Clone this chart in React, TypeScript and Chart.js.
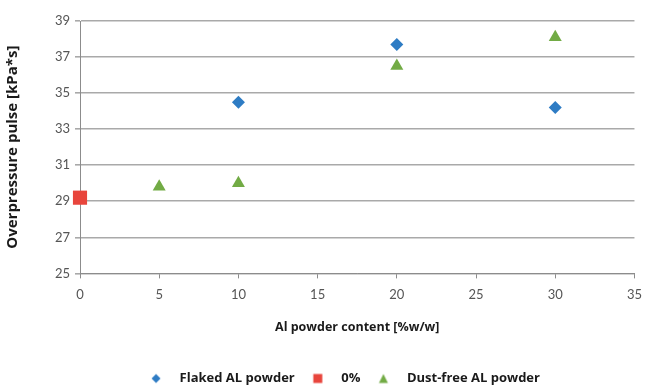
import React, { useEffect, useRef } from "react";
import { Chart, registerables } from "chart.js";

Chart.register(...registerables);

// Aluminium powder content [%w/w] and measured overpressure pulse [kPa*s]
const flakedContent = [10, 20, 30];
const flakedPulse = [34.5, 37.7, 34.2];

const baseContent = [0];
const basePulse = [29.2];

const dustFreeContent = [5, 10, 20, 30];
const dustFreePulse = [29.8, 30.0, 36.5, 38.1];

const seriesNames = ["Flaked AL powder", "0%", "Dust-free AL powder"];
const seriesColors = ["#2e7cc4", "#e8453c", "#72ab45"];

const yMin = 25;
const yMax = 39;
const yStep = 2;
const xMin = 0;
const xMax = 35;
const xStep = 5;

const TICK_FONT = "Lato, 'Open Sans', 'Liberation Sans', sans-serif";
const LABEL_FONT = "'Open Sans', 'Liberation Sans', sans-serif";

const toPoints = (xs: number[], ys: number[]) => xs.map((x, i) => ({ x, y: ys[i] }));

// small legend glyphs, drawn once on offscreen canvases
function legendGlyph(shape: "diamond" | "square" | "triangle", color: string) {
  const c = document.createElement("canvas");
  c.width = 12;
  c.height = 12;
  const g = c.getContext("2d")!;
  g.fillStyle = color;
  g.beginPath();
  if (shape === "diamond") {
    g.moveTo(6, 1.5);
    g.lineTo(10.5, 6);
    g.lineTo(6, 10.5);
    g.lineTo(1.5, 6);
  } else if (shape === "square") {
    g.rect(1.5, 1.5, 9, 9);
  } else {
    g.moveTo(6, 1.5);
    g.lineTo(10.5, 10.5);
    g.lineTo(1.5, 10.5);
  }
  g.closePath();
  g.fill();
  return c;
}

// nudges the bottom legend row right of the chart's centre line and a little lower
const legendShift = {
  id: "legendShift",
  afterLayout(chart: any) {
    const lg = chart.legend;
    if (lg) {
      lg.left += 17;
      lg.right += 17;
      lg.top += 8;
      lg.bottom += 8;
    }
  },
};

export default function App() {
  const canvasRef = useRef<HTMLCanvasElement | null>(null);

  useEffect(() => {
    if (!canvasRef.current) return;
    const glyphs = [
      legendGlyph("diamond", seriesColors[0]),
      legendGlyph("square", seriesColors[1]),
      legendGlyph("triangle", seriesColors[2]),
    ];
    const chart = new Chart(canvasRef.current, {
      type: "scatter",
      plugins: [legendShift],
      data: {
        datasets: [
          {
            label: seriesNames[0],
            data: toPoints(flakedContent, flakedPulse),
            pointStyle: "rectRot",
            pointRadius: 6.5,
            backgroundColor: seriesColors[0],
            borderColor: seriesColors[0],
            borderWidth: 0,
            clip: false,
          },
          {
            label: seriesNames[1],
            data: toPoints(baseContent, basePulse),
            pointStyle: "rect",
            pointRadius: 10,
            backgroundColor: seriesColors[1],
            borderColor: seriesColors[1],
            borderWidth: 0,
            clip: false,
          },
          {
            label: seriesNames[2],
            data: toPoints(dustFreeContent, dustFreePulse),
            pointStyle: "triangle",
            pointRadius: 7.5,
            backgroundColor: seriesColors[2],
            borderColor: seriesColors[2],
            borderWidth: 0,
            clip: false,
          },
        ],
      },
      options: {
        animation: false,
        responsive: false,
        devicePixelRatio: 1,
        layout: { padding: { left: 4, right: 10, top: 21, bottom: 0 } },
        plugins: {
          tooltip: { enabled: false },
          legend: {
            position: "bottom",
            labels: {
              usePointStyle: true,
              pointStyleWidth: 34,
              boxHeight: 12,
              padding: 6,
              color: "#1a1a1a",
              font: { family: LABEL_FONT, size: 13, weight: "bold" },
              generateLabels: (ch: any) =>
                ch.data.datasets.map((ds: any, i: number) => ({
                  text: ds.label,
                  fillStyle: seriesColors[i],
                  strokeStyle: seriesColors[i],
                  lineWidth: 0,
                  pointStyle: glyphs[i],
                  hidden: false,
                  datasetIndex: i,
                  fontColor: "#1a1a1a",
                })),
            },
          },
        },
        scales: {
          x: {
            type: "linear",
            min: xMin,
            max: xMax,
            border: { color: "#8c8c8c", width: 1 },
            grid: { drawOnChartArea: false, drawTicks: true, tickLength: 5, color: "#8c8c8c" },
            ticks: {
              stepSize: xStep,
              color: "#555555",
              padding: 9,
              font: { family: TICK_FONT, size: 13 },
            },
            title: {
              display: true,
              text: "Al powder content [%w/w]",
              color: "#1a1a1a",
              padding: { top: 8, bottom: 23 },
              font: { family: LABEL_FONT, size: 12.5, weight: "bold" },
            },
          },
          y: {
            type: "linear",
            min: yMin,
            max: yMax,
            border: { color: "#8c8c8c", width: 1 },
            grid: { color: "#a9a9a9", lineWidth: 1.6, drawTicks: true, tickLength: 5 },
            ticks: {
              stepSize: yStep,
              color: "#555555",
              padding: 5,
              font: { family: TICK_FONT, size: 13 },
            },
            title: {
              display: true,
              text: "Overpressure pulse [kPa*s]",
              color: "#1a1a1a",
              padding: { top: 0, bottom: 6 },
              font: { family: LABEL_FONT, size: 15, weight: "bold" },
            },
            afterFit: (scale: any) => {
              scale.width = 76;
            },
          },
        },
      },
    });
    return () => chart.destroy();
  }, []);

  return (
    <div style={{ position: "fixed", left: 0, top: 0, width: 651, height: 387, background: "#ffffff" }}>
      <canvas ref={canvasRef} width={651} height={387} style={{ width: 651, height: 387 }} />
    </div>
  );
}
